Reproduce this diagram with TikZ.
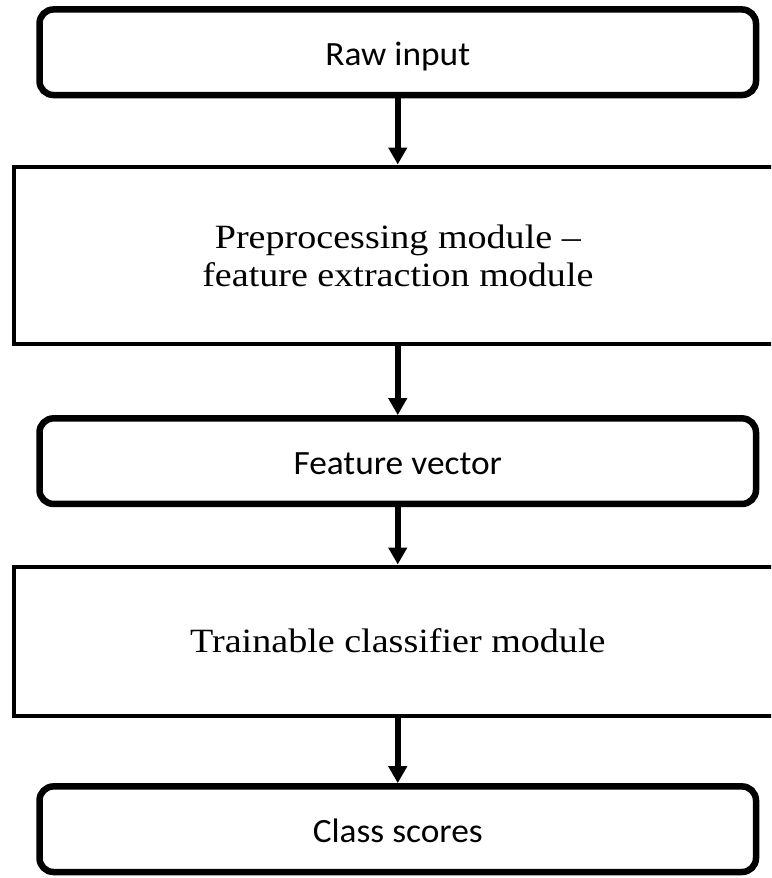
\documentclass[tikz,border=0pt]{standalone}
\usepackage{fontspec}
\usetikzlibrary{arrows.meta}
\newfontfamily\calib[FakeStretch=1.04]{Carlito}
\newfontfamily\camb[FakeStretch=1.12,Ligatures=TeX]{Liberation Serif}
\begin{document}
\begin{tikzpicture}[x=1pt,y=-1pt,
  rbox/.style={draw, line width=6.5pt, rounded corners=14pt, minimum width=716.5pt,
    minimum height=85.6pt, inner sep=0pt, font=\calib\fontsize{34}{40}\selectfont,
    text height=30pt, text depth=4pt},
  sbox/.style={draw, line width=4pt, minimum width=768.3pt, inner sep=0pt,
    font=\camb\fontsize{34}{38}\selectfont, align=center},
  arr/.style={line width=5.5pt, -{Triangle[width=18pt,length=17pt]}}]
\useasboundingbox (0,0) rectangle (771,878);
\clip (0,0) rectangle (771,878);
\node[rbox] (raw) at (397.75,52.25) {Raw input};
\node[sbox, minimum height=177.8pt] (pp) at (397.85,255.4) {Preprocessing module –\\feature extraction module};
\node[rbox] (fv) at (397.75,461.15) {Feature vector};
\node[sbox, minimum height=149pt, text height=25pt, text depth=2pt] (tc) at (397.85,641) {Trainable classifier module};
\node[rbox] (cs) at (397.75,829.2) {Class scores};
\draw[arr] (raw.south) -- (raw.south |- pp.north);
\draw[arr] (raw.south |- pp.south) -- (raw.south |- fv.north);
\draw[arr] (fv.south) -- (fv.south |- tc.north);
\draw[arr] (fv.south |- tc.south) -- (fv.south |- cs.north);
\end{tikzpicture}
\end{document}
